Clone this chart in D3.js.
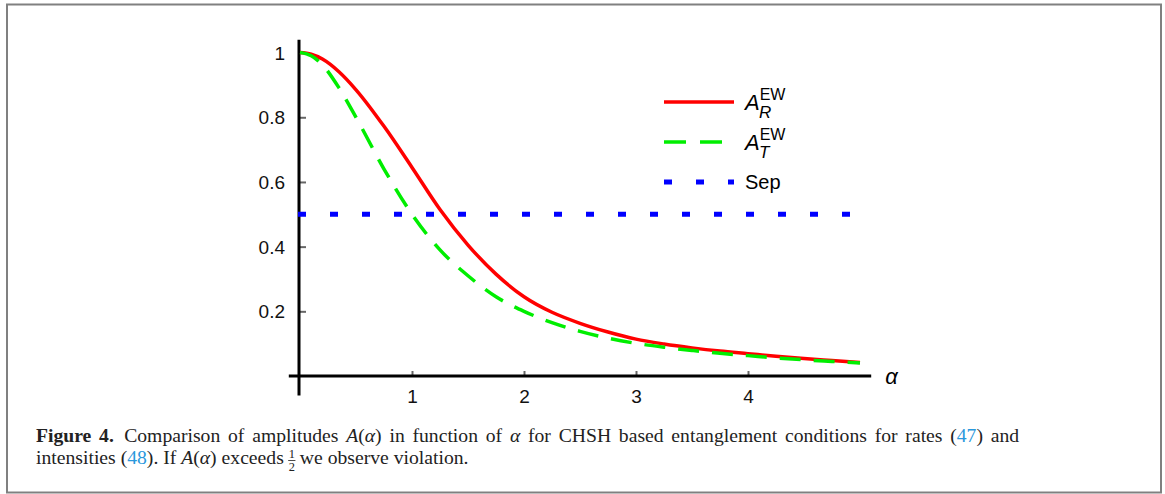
<!DOCTYPE html>
<html>
<head>
<meta charset="utf-8">
<script src="https://cdn.jsdelivr.net/npm/d3@7"></script>
<style>
  body { margin: 0; background: #fff; }
  svg { display: block; }
</style>
</head>
<body>
<div id="wrapper"></div>
<script>
// values
const alphas = [0, 0.1, 0.2, 0.35, 0.5, 0.75, 1, 1.25, 1.5, 1.75, 2, 2.25, 2.5, 2.75, 3, 3.25, 3.5, 3.75, 4, 4.25, 4.5, 4.75, 5]
const ampR = [1, 0.995, 0.98, 0.94, 0.885, 0.772, 0.645, 0.515, 0.405, 0.315, 0.245, 0.197, 0.163, 0.136, 0.114, 0.099, 0.087, 0.077, 0.069, 0.061, 0.054, 0.048, 0.042]
const ampT = [1, 0.99, 0.962, 0.89, 0.80, 0.64, 0.50, 0.39, 0.31, 0.245, 0.20, 0.165, 0.138, 0.117, 0.101, 0.089, 0.079, 0.070, 0.063, 0.056, 0.050, 0.045, 0.040]
const sepValue = 0.5
const xTicks = [1, 2, 3, 4]
const yTicks = [0.2, 0.4, 0.6, 0.8, 1]

const dimensions = {
    width: 1165,
    height: 494,
    margin: { top: 52.6, right: 305, bottom: 118, left: 300 },
}
dimensions.boundedWidth = 560
dimensions.boundedHeight = 323.4

const svg = d3.select("#wrapper")
  .append("svg")
    .attr("width", dimensions.width)
    .attr("height", dimensions.height)

// frame round the figure
svg.append("rect")
    .attr("x", 7).attr("y", 4.5)
    .attr("width", 1154).attr("height", 488)
    .attr("fill", "none")
    .attr("stroke", "#808080")
    .attr("stroke-width", 2)

const x = d3.scaleLinear()
    .domain([0, 5])
    .range([dimensions.margin.left, dimensions.margin.left + dimensions.boundedWidth])
const y = d3.scaleLinear()
    .domain([0, 1])
    .range([dimensions.margin.top + dimensions.boundedHeight, dimensions.margin.top])

const sans = "'Liberation Sans', Arial, sans-serif"

// axes
svg.append("g")
    .attr("transform", `translate(0, ${y(0)})`)
    .call(d3.axisTop(x).tickValues(xTicks).tickSize(5).tickFormat(d3.format("d")))
    .call(g => g.select(".domain").remove())
    .call(g => g.selectAll(".tick line").attr("stroke", "#666").attr("stroke-width", 2))
    .call(g => g.selectAll(".tick text")
        .attr("y", 14).attr("dy", "0.71em")
        .style("font-family", sans).style("font-size", "19px").attr("fill", "#111"))

svg.append("g")
    .attr("transform", `translate(${x(0)}, 0)`)
    .call(d3.axisRight(y).tickValues(yTicks).tickSize(6).tickFormat(d => d === 1 ? "1" : d3.format(".1f")(d)))
    .call(g => g.select(".domain").remove())
    .call(g => g.selectAll(".tick line").attr("stroke", "#666").attr("stroke-width", 2))
    .call(g => g.selectAll(".tick text")
        .attr("x", -15).attr("text-anchor", "end").attr("dy", "0.35em")
        .style("font-family", sans).style("font-size", "19px").attr("fill", "#111"))

svg.append("line")
    .attr("x1", x(-0.1)).attr("x2", x(5.1))
    .attr("y1", y(0)).attr("y2", y(0))
    .attr("stroke", "#000").attr("stroke-width", 3)
svg.append("line")
    .attr("x1", x(0) - 1).attr("x2", x(0) - 1)
    .attr("y1", y(1.04)).attr("y2", y(-0.06))
    .attr("stroke", "#000").attr("stroke-width", 3)

svg.append("text")
    .attr("x", x(5.1) + 14).attr("y", y(0) + 8)
    .style("font-family", sans).style("font-size", "22px").style("font-style", "italic")
    .text("α")

// lines
const line = values => d3.line()
    .x((d, i) => x(alphas[i]))
    .y(d => y(d))
    .curve(d3.curveMonotoneX)(values)

svg.append("line")
    .attr("x1", x(0) - 2).attr("x2", x(4.93))
    .attr("y1", y(sepValue)).attr("y2", y(sepValue))
    .attr("stroke", "#0000ff").attr("stroke-width", 5)
    .attr("stroke-dasharray", "8,24")

svg.append("path")
    .attr("d", line(ampR))
    .attr("fill", "none")
    .attr("stroke", "#ff0000").attr("stroke-width", 3.5)

svg.append("path")
    .attr("d", line(ampT))
    .attr("fill", "none")
    .attr("stroke", "#00ee00").attr("stroke-width", 3.5)
    .attr("stroke-dasharray", "21,13")

// legend
const legendItems = [
    { sub: "R", color: "#ff0000", dash: null, width: 3.5 },
    { sub: "T", color: "#00ee00", dash: "22,14", width: 3.5 },
    { label: "Sep", color: "#0000ff", dash: "8,24", width: 5 },
]
const legend = svg.append("g").attr("transform", "translate(664, 102)")
legendItems.forEach((d, i) => {
    const g = legend.append("g").attr("transform", `translate(0, ${i * 40})`)
    g.append("line")
        .attr("x1", 0).attr("x2", 70)
        .attr("stroke", d.color).attr("stroke-width", d.width)
        .attr("stroke-dasharray", d.dash)
    const t = g.append("text")
        .attr("x", 81).attr("y", 8)
        .style("font-family", sans).style("font-size", "22px")
    if (d.label) {
        t.attr("y", 7).style("font-size", "20px").text(d.label)
    } else {
        t.append("tspan").style("font-style", "italic").text("A")
        t.append("tspan").attr("dy", -10).attr("dx", 0).style("font-size", "16px").text("EW")
        t.append("tspan").attr("x", 95).attr("dy", 18).style("font-size", "17px").style("font-style", "italic").text(d.sub)
    }
})

// caption
const serif = "'Liberation Serif', 'Times New Roman', serif"
const link = "#2a98dc"
const capScale = 1.035
const cap = svg.append("g")
    .attr("transform", `translate(36, 0) scale(${capScale}, 1)`)
    .style("font-family", serif).style("font-size", "19px").attr("fill", "#222")
const l1 = cap.append("text").attr("x", 0).attr("y", 442)
l1.append("tspan").style("font-weight", "bold").text("Figure 4.")
l1.append("tspan").attr("dx", 10).text("Comparison of amplitudes ")
l1.append("tspan").style("font-style", "italic").text("A")
l1.append("tspan").text("(")
l1.append("tspan").style("font-style", "italic").text("α")
l1.append("tspan").text(") in function of ")
l1.append("tspan").style("font-style", "italic").text("α")
l1.append("tspan").text(" for CHSH based entanglement conditions for rates (")
l1.append("tspan").attr("fill", link).text("47")
l1.append("tspan").text(") and")

// justified first line: spread the spare width over the word gaps
const target = (1022 - 36) / capScale
const natural = l1.node().getComputedTextLength()
const gaps = (l1.text().match(/ /g) || []).length + 1
l1.attr("word-spacing", (target - natural - 10) / gaps)

const l2 = cap.append("text").attr("x", 0).attr("y", 464)
l2.append("tspan").text("intensities (")
l2.append("tspan").attr("fill", link).text("48")
l2.append("tspan").text("). If ")
l2.append("tspan").style("font-style", "italic").text("A")
l2.append("tspan").text("(")
l2.append("tspan").style("font-style", "italic").text("α")
l2.append("tspan").text(") exceeds ")
const num = l2.append("tspan").attr("dy", -6).style("font-size", "12px").text("1")
l2.append("tspan").attr("dx", -6).attr("dy", 13).style("font-size", "12px").text("2")
l2.append("tspan").attr("dy", -7).text(" we observe violation.")

// fraction bar under the small 1
const ext = num.node().getExtentOfChar(0)
cap.append("line")
    .attr("x1", ext.x - 0.5).attr("x2", ext.x + ext.width + 0.5)
    .attr("y1", 460.5).attr("y2", 460.5)
    .attr("stroke", "#222").attr("stroke-width", 0.8)
</script>
</body>
</html>
